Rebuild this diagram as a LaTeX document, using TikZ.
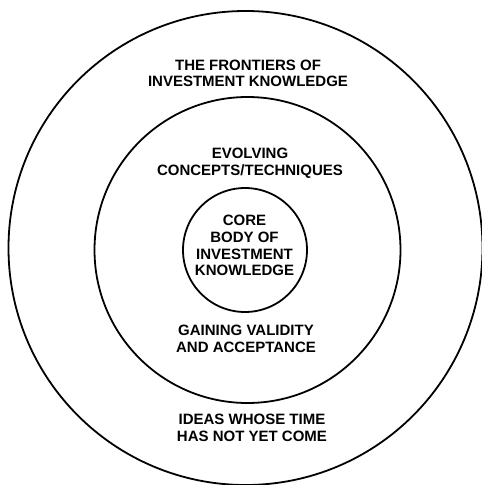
\documentclass[tikz,border=0pt]{standalone}
\usepackage{fontspec}
\setmainfont{Liberation Sans}
\begin{document}
\begin{tikzpicture}[x=1pt,y=-1pt,
  ring/.style={circle, draw=black, line width=1.8pt, inner sep=0pt},
  lbl/.style={align=center, inner sep=0pt, font=\fontsize{15}{16.8}\selectfont\bfseries}]
\useasboundingbox (0,0) rectangle (482,485);
\node[ring, minimum size=474pt] (outer) at (245.5,248) {};
\node[ring, minimum size=306pt] (middle) at (247.5,250) {};
\node[ring, minimum size=124pt] (inner) at (245,250) {};
\node[lbl] (frontiers) at (248,73.3) {THE FRONTIERS OF\\INVESTMENT KNOWLEDGE};
\node[lbl] (evolving) at (250,163) {EVOLVING\\CONCEPTS/TECHNIQUES};
\node[lbl] (core) at (244.5,245.5) {CORE\\BODY OF\\INVESTMENT\\KNOWLEDGE};
\node[lbl] (gaining) at (246,338.5) {GAINING VALIDITY\\AND ACCEPTANCE};
\node[lbl] (ideas) at (252,428) {IDEAS WHOSE TIME\\HAS NOT YET COME};
\end{tikzpicture}
\end{document}
